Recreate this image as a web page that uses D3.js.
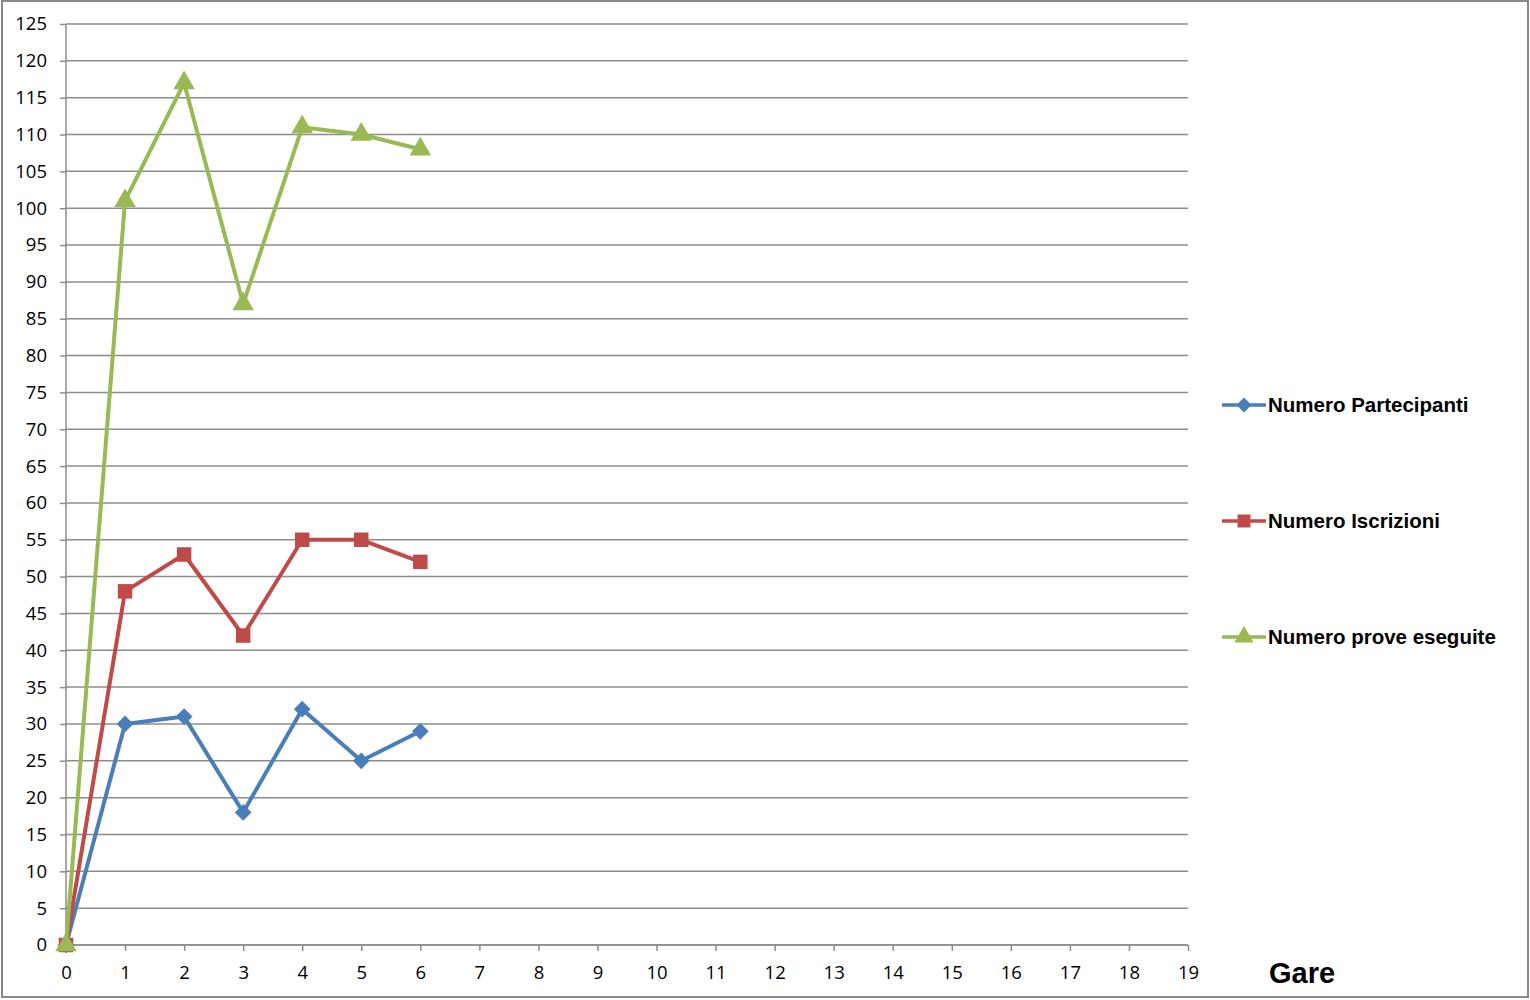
<!DOCTYPE html>
<html>
<head>
<meta charset="utf-8">
<script src="https://cdn.jsdelivr.net/npm/d3@7"></script>
<style>
body{margin:0;background:#fff;}
.tick text{font-family:"Open Sans",sans-serif;font-size:18.5px;fill:#000;}
</style>
</head>
<body>
<div id="plot"></div>
<script>
// chart data
var gare = [0, 1, 2, 3, 4, 5, 6];
var partecipanti = [0, 30, 31, 18, 32, 25, 29];
var iscrizioni = [0, 48, 53, 42, 55, 55, 52];
var prove = [0, 101, 117, 87, 111, 110, 108];
var seriesNames = ['Numero Partecipanti', 'Numero Iscrizioni', 'Numero prove eseguite'];
var xTicks = d3.range(0, 20);
var yTicks = d3.range(0, 126, 5);

var W = 1530, H = 1000;
var margin = {t:24, r:342, b:55, l:66};
var width = W - margin.l - margin.r,
	height = H - margin.t - margin.b;

var svg = d3.select('#plot').append('svg')
	.attr('width', W).attr('height', H);

// outer frame
svg.append('rect')
	.attr('x', 2).attr('y', 1).attr('width', W - 4).attr('height', H - 4)
	.style('fill', 'none').style('stroke', '#888').style('stroke-width', 2);

var plot = svg.append('g')
	.attr('transform', 'translate(' + margin.l + ',' + margin.t + ')');

var x = d3.scaleLinear().domain([0, 19]).range([0, width]);
var y = d3.scaleLinear().domain([0, 125]).range([height, 0]);

// gridlines
plot.selectAll('.grid').data(yTicks).enter().append('line')
	.attr('x1', 0).attr('x2', width)
	.attr('y1', function(d){ return y(d); }).attr('y2', function(d){ return y(d); })
	.style('stroke', '#8c8c8c').style('stroke-width', 1.5);

var yAxis = plot.append('g')
	.call(d3.axisLeft(y).tickValues(yTicks).tickSize(6).tickPadding(13));
var xAxis = plot.append('g')
	.attr('transform', 'translate(0,' + height + ')')
	.call(d3.axisBottom(x).tickValues(xTicks).tickSize(6).tickPadding(15));
[yAxis, xAxis].forEach(function(a){
	a.selectAll('path, line').style('stroke', '#8c8c8c').style('stroke-width', 1.5);
	a.select('.domain').attr('d', a === yAxis ? 'M0,0V' + height : 'M0,0H' + width);
});

var colors = ['#4A7EBB', '#BE4B48', '#98B954'];
var shapes = [d3.symbolSquare, d3.symbolSquare, d3.symbolTriangle];
var sizes = [140, 210, 200];
var rotate = [45, 0, 0];
var allSeries = [partecipanti, iscrizioni, prove];

var line = d3.line()
	.x(function(d, i){ return x(gare[i]); })
	.y(function(d){ return y(d); });

allSeries.forEach(function(vals, s){
	plot.append('path')
		.attr('d', line(vals))
		.style('fill', 'none')
		.style('stroke', colors[s])
		.style('stroke-width', 4)
		.style('stroke-linejoin', 'round');
	plot.selectAll('.m' + s).data(vals).enter().append('path')
		.attr('transform', function(d, i){ return 'translate(' + x(gare[i]) + ',' + y(d) + ') rotate(' + rotate[s] + ')'; })
		.attr('d', d3.symbol().type(shapes[s]).size(sizes[s]))
		.style('fill', colors[s]);
});

// legend
var legendY = [405, 521, 637];
seriesNames.forEach(function(name, s){
	var g = svg.append('g').attr('transform', 'translate(1222,' + legendY[s] + ')');
	g.append('line').attr('x1', 0).attr('x2', 44)
		.style('stroke', colors[s]).style('stroke-width', 3.5);
	g.append('path').attr('transform', 'translate(22,0) rotate(' + rotate[s] + ')')
		.attr('d', d3.symbol().type(shapes[s]).size(sizes[s] * 0.8))
		.style('fill', colors[s]);
	g.append('text').attr('x', 46).attr('y', 7)
		.style('font-family', '"Liberation Sans",Arial,sans-serif')
		.style('font-weight', 'bold').style('font-size', '20.5px')
		.text(name);
});

svg.append('text')
	.attr('x', 1269).attr('y', 983)
	.style('font-family', '"Liberation Sans",Arial,sans-serif')
	.style('font-weight', 'bold').style('font-size', '29px')
	.text('Gare');
</script>
</body>
</html>
